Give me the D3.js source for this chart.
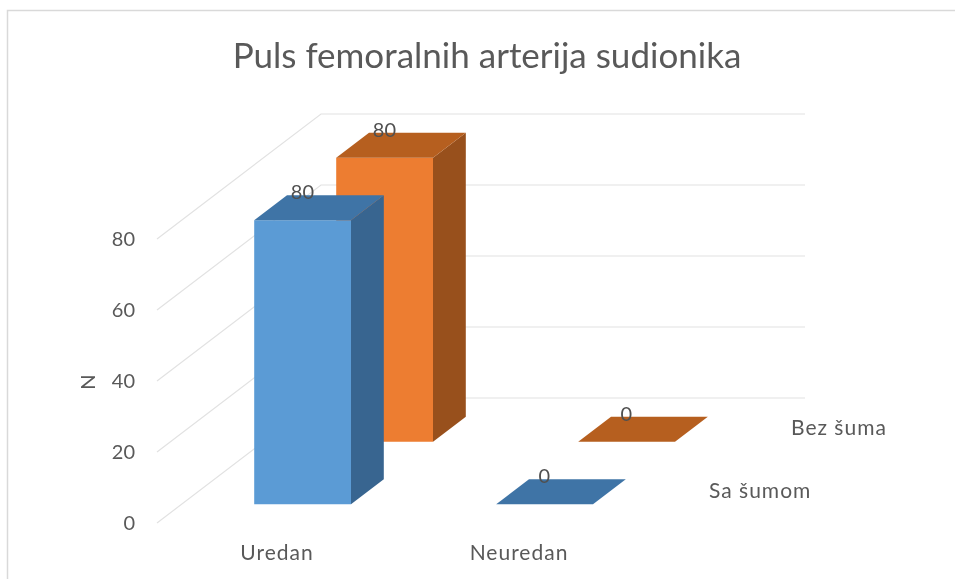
<!DOCTYPE html>
<html>
<head>
<meta charset="utf-8">
<script src="https://cdn.jsdelivr.net/npm/d3@7/dist/d3.min.js"></script>
<style>
html,body{margin:0;padding:0;background:#fff;}
svg{display:block;filter:blur(0.45px);}
text{font-family:Lato,"Open Sans",sans-serif;fill:#595959;}
</style>
</head>
<body>
<svg id="chart" width="955" height="579"></svg>
<script>
const categories = ["Uredan", "Neuredan"];
const seriesNames = ["Sa šumom", "Bez šuma"];
const saSumom = [80, 0];
const bezSuma = [80, 0];
const seriesValues = [saSumom, bezSuma];
const yTicks = [0, 20, 40, 60, 80];
const titleText = "Puls femoralnih arterija sudionika";
const yAxisTitle = "N";

const frontColors = ["#5B9BD5", "#ED7D31"];
const sideColors = ["#386590", "#98501C"];
const topColors = ["#3F74A6", "#B65F1F"];

const svg = d3.select("#chart");

// Frame
svg.append("path").attr("d", "M7.5,579V10.5H955").attr("fill", "none")
  .attr("stroke", "#d9d9d9").attr("stroke-width", 1.5);

// Oblique projection: x/y on the front plane plus a depth 0..1 into the chart
const originX = 157, depthDX = 164, depthDY = -125;
const y = d3.scaleLinear().domain([0, 80]).range([523, 239]);
const xCat = d3.scaleBand().domain(categories).range([0, 484]).paddingInner(0.6).paddingOuter(0.3);
const depth = d3.scaleBand().domain(seriesNames).range([0, 1]).paddingInner(0.6).paddingOuter(0.3);
const px = (x, d) => originX + x + depthDX * d;
const py = (v, d) => y(v) + depthDY * d;
const poly = pts => "M" + pts.map(p => p.join(",")).join("L") + "Z";

// Title
svg.append("text").attr("x", 487).attr("y", 68).attr("text-anchor", "middle")
  .attr("font-size", 35).text(titleText);

// Grid: side wall and back wall
const grid = svg.append("g").attr("fill", "none").attr("stroke", "#e2e2e2").attr("stroke-width", 1.2);
yTicks.forEach(t => {
  grid.append("path").attr("d", d3.line()([
    [px(0, 0), py(t, 0)], [px(0, 1), py(t, 1)], [px(xCat.range()[1], 1), py(t, 1)]
  ]));
});

// Y axis labels through d3.axisLeft
const axis = svg.append("g").attr("transform", "translate(143,0)")
  .call(d3.axisLeft(y).tickValues(yTicks).tickSize(0).tickPadding(8));
axis.select(".domain").remove();
axis.selectAll("text").attr("font-size", 20).attr("font-family", "Lato").style("fill", "#595959");

// Y axis title
svg.append("text").attr("transform", "translate(87,382) rotate(-90)")
  .attr("text-anchor", "middle").attr("dominant-baseline", "central")
  .attr("font-size", 20).text(yAxisTitle);

// Bars, back series first
[1, 0].forEach(si => {
  const name = seriesNames[si];
  const d0 = depth(name), d1 = d0 + depth.bandwidth();
  const g = svg.append("g");
  categories.forEach((c, ci) => {
    const v = seriesValues[si][ci];
    const x0 = xCat(c), x1 = x0 + xCat.bandwidth();
    if (v > 0) {
      g.append("path").attr("fill", sideColors[si]).attr("d", poly([
        [px(x1, d0), py(0, d0)], [px(x1, d1), py(0, d1)], [px(x1, d1), py(v, d1)], [px(x1, d0), py(v, d0)]
      ]));
      g.append("path").attr("fill", frontColors[si]).attr("d", poly([
        [px(x0, d0), py(0, d0)], [px(x1, d0), py(0, d0)], [px(x1, d0), py(v, d0)], [px(x0, d0), py(v, d0)]
      ]));
    }
    g.append("path").attr("fill", topColors[si]).attr("d", poly([
      [px(x0, d0), py(v, d0)], [px(x1, d0), py(v, d0)], [px(x1, d1), py(v, d1)], [px(x0, d1), py(v, d1)]
    ]));
  });
});

// Data labels on top of all bars
[1, 0].forEach(si => {
  const name = seriesNames[si];
  const d0 = depth(name), d1 = d0 + depth.bandwidth();
  categories.forEach((c, ci) => {
    const v = seriesValues[si][ci];
    svg.append("text")
      .attr("x", px(xCat(c) + xCat.bandwidth() / 2, d1) - 33)
      .attr("y", py(v, d1) + 4)
      .attr("text-anchor", "middle").attr("font-size", 20)
      .style("fill", "#505050").text(v);
  });
});

// Category labels
categories.forEach(c => {
  svg.append("text").attr("x", px(xCat(c) + xCat.bandwidth() / 2, 0) - 1).attr("y", 560)
    .attr("text-anchor", "middle").attr("font-size", 21).attr("letter-spacing", 1).text(c);
});

// Series labels
seriesNames.forEach(s => {
  const d = depth(s) + depth.bandwidth() / 2;
  svg.append("text").attr("x", px(xCat.range()[1], d) + 27).attr("y", py(0, d) + 6)
    .attr("font-size", 21).attr("letter-spacing", 1).text(s);
});
</script>
</body>
</html>
